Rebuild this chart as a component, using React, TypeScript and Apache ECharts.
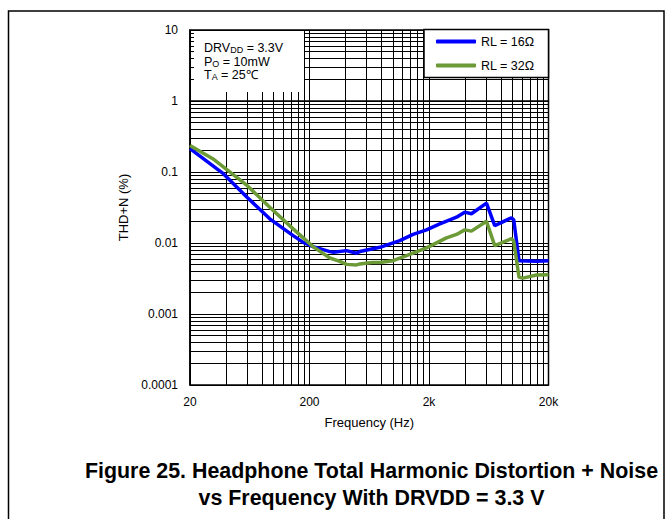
import React, { useEffect, useRef } from "react";
import * as echarts from "echarts";

// ---- data ----
const blueFreq = [20, 38, 60, 93, 146, 177, 214, 296, 318, 408, 495, 528, 776, 1140, 1472, 1906, 2462, 2986, 3397, 3984, 4531, 6053, 7097, 9790, 10235, 11330, 15850, 20000];
const blueThd = [0.213, 0.0946, 0.0442, 0.0219, 0.0127, 0.0102, 0.00889, 0.00756, 0.0074, 0.00781, 0.00716, 0.0076, 0.0087, 0.0108, 0.0132, 0.0153, 0.0186, 0.0212, 0.0231, 0.0272, 0.0258, 0.0364, 0.0176, 0.0226, 0.0212, 0.00564, 0.00553, 0.00564];

const greenFreq = [20, 31, 60, 93, 146, 214, 296, 359, 408, 495, 528, 668, 776, 1002, 1297, 1906, 2800, 3397, 3984, 4531, 6053, 7097, 9790, 10235, 11330, 12200, 15850, 20000];
const greenThd = [0.237, 0.154, 0.0647, 0.0319, 0.0158, 0.00889, 0.00615, 0.00552, 0.0050, 0.00491, 0.00507, 0.00533, 0.00533, 0.00564, 0.00664, 0.00853, 0.0118, 0.0132, 0.0153, 0.0147, 0.0202, 0.00918, 0.0115, 0.0107, 0.00328, 0.0032, 0.00354, 0.00356];

const seriesNames = ["RL = 16Ω", "RL = 32Ω"];

const xTickValues = [20, 200, 2000, 20000];
const xTickLabels = ["20", "200", "2k", "20k"];
const yTickValues = [0.0001, 0.001, 0.01, 0.1, 1, 10];
const yTickLabels = ["0.0001", "0.001", "0.01", "0.1", "1", "10"];

const xGridMultipliers = [1, 2, 3, 4, 5, 6, 7, 8, 9, 10];
const yGridMultipliers = [1, 2, 3, 4, 5, 6, 7, 8, 9];

const lg = Math.log10;
const FONT = "'Liberation Sans', Arial, sans-serif";

function buildXGrid(): number[] {
  const out: number[] = [];
  for (let d = 0; d < xTickValues.length - 1; d++) {
    for (const k of xGridMultipliers) {
      const v = lg(xTickValues[d]) + lg(k);
      if (!out.some((o) => Math.abs(o - v) < 1e-9)) out.push(v);
    }
  }
  out[out.length - 1] = lg(xTickValues[xTickValues.length - 1]);
  return out;
}

function buildYGrid(): number[] {
  const out: number[] = [];
  for (let d = 0; d < yTickValues.length - 1; d++) {
    for (const k of yGridMultipliers) out.push(lg(yTickValues[d]) + lg(k));
  }
  out.push(lg(yTickValues[yTickValues.length - 1]));
  return out;
}

function labelFor(val: number, vals: number[], labels: string[]): string {
  let best = -1;
  let bd = Infinity;
  vals.forEach((v, i) => {
    const d = Math.abs(lg(v) - val);
    if (d < bd) {
      bd = d;
      best = i;
    }
  });
  return bd < 1e-6 ? labels[best] : "";
}

export default function App() {
  const ref = useRef<HTMLDivElement>(null);

  useEffect(() => {
    const chart = echarts.init(ref.current!, null, { renderer: "svg" });

    const mainRich = {
      m: { fontSize: 12.5, fontFamily: FONT, color: "#000", lineHeight: 13 },
      s: { fontSize: 9, fontFamily: FONT, color: "#000", lineHeight: 6, verticalAlign: "bottom" },
    };

    const option: any = {
      animation: false,
      backgroundColor: "#fff",
      grid: {
        left: 190,
        top: 30,
        width: 358.5,
        height: 355,
        show: true,
        borderColor: "#000",
        borderWidth: 1.5,
        backgroundColor: "transparent",
      },
      xAxis: {
        type: "value",
        min: lg(xTickValues[0]),
        max: lg(xTickValues[xTickValues.length - 1]),
        axisLine: { show: true, lineStyle: { color: "#000", width: 1.5 } },
        axisTick: { show: false, customValues: buildXGrid() },
        splitLine: { show: true, lineStyle: { color: "#000", width: 1 } },
        axisLabel: {
          customValues: xTickValues.map(lg),
          formatter: (v: number) => labelFor(v, xTickValues, xTickLabels),
          color: "#000",
          fontSize: 12,
          fontFamily: FONT,
          margin: 11,
          showMinLabel: true,
          showMaxLabel: true,
        },
        name: "Frequency (Hz)",
        nameLocation: "middle",
        nameGap: 31,
        nameTextStyle: { color: "#000", fontSize: 13, fontFamily: FONT },
      },
      yAxis: {
        type: "value",
        min: lg(yTickValues[0]),
        max: lg(yTickValues[yTickValues.length - 1]),
        axisLine: { show: true, lineStyle: { color: "#000", width: 1.5 } },
        axisTick: {
          show: true,
          inside: true,
          length: 4,
          customValues: buildYGrid(),
          lineStyle: { color: "#000", width: 1 },
        },
        splitLine: { show: true, lineStyle: { color: "#000", width: 1 } },
        axisLabel: {
          customValues: yTickValues.map(lg),
          formatter: (v: number) => labelFor(v, yTickValues, yTickLabels),
          color: "#000",
          fontSize: 12,
          fontFamily: FONT,
          margin: 12,
          showMinLabel: true,
          showMaxLabel: true,
        },
        name: "THD+N (%)",
        nameLocation: "middle",
        nameGap: 46,
        nameTextStyle: { color: "#000", fontSize: 13, fontFamily: FONT },
      },
      legend: {
        data: seriesNames,
        orient: "vertical",
        left: 436,
        top: 34,
        icon: "roundRect",
        itemWidth: 40,
        itemHeight: 4,
        itemGap: 9,
        padding: 0,
        textStyle: { color: "#000", fontSize: 12.5, fontFamily: FONT, lineHeight: 15 },
        z: 5,
      },
      graphic: [
        {
          type: "rect",
          shape: { x: 8.5, y: 11, width: 655.5, height: 530 },
          style: { fill: "none", stroke: "#000", lineWidth: 1.5 },
          z: 0,
          silent: true,
        },
        {
          type: "rect",
          shape: { x: 194, y: 31, width: 110, height: 61 },
          style: { fill: "#fff", stroke: "none" },
          z: 3,
          silent: true,
        },
        {
          type: "rect",
          shape: { x: 424, y: 29.5, width: 124.5, height: 48 },
          style: { fill: "#fff", stroke: "#000", lineWidth: 1.5 },
          z: 3,
          silent: true,
        },
        {
          type: "text",
          x: 204,
          y: 48,
          z: 4,
          style: {
            text: "{m|DRV}{s|DD}{m| = 3.3V}",
            rich: mainRich,
            verticalAlign: "middle",
          },
        },
        {
          type: "text",
          x: 204,
          y: 61.5,
          z: 4,
          style: {
            text: "{m|P}{s|O}{m| = 10mW}",
            rich: mainRich,
            verticalAlign: "middle",
          },
        },
        {
          type: "text",
          x: 204,
          y: 74.5,
          z: 4,
          style: {
            text: "{m|T}{s|A}{m| = 25℃}",
            rich: mainRich,
            verticalAlign: "middle",
          },
        },
        {
          type: "text",
          x: 371.5,
          y: 470.7,
          z: 4,
          style: {
            text: "Figure 25. Headphone Total Harmonic Distortion + Noise",
            font: `bold 21.4px ${FONT}`,
            fill: "#000",
            align: "center",
            verticalAlign: "middle",
          },
        },
        {
          type: "text",
          x: 371.5,
          y: 497.7,
          z: 4,
          style: {
            text: "vs Frequency With DRVDD = 3.3 V",
            font: `bold 21.4px ${FONT}`,
            fill: "#000",
            align: "center",
            verticalAlign: "middle",
          },
        },
      ],
      series: [
        {
          name: seriesNames[0],
          type: "line",
          data: blueFreq.map((f, i) => [lg(f), lg(blueThd[i])]),
          symbol: "none",
          lineStyle: { color: "#0000ff", width: 3.5 },
          itemStyle: { color: "#0000ff" },
          z: 2,
        },
        {
          name: seriesNames[1],
          type: "line",
          data: greenFreq.map((f, i) => [lg(f), lg(greenThd[i])]),
          symbol: "none",
          lineStyle: { color: "#6b9a36", width: 3.5 },
          itemStyle: { color: "#6b9a36" },
          z: 2,
        },
      ],
    };

    chart.setOption(option);
    return () => chart.dispose();
  }, []);

  return (
    <div
      ref={ref}
      style={{ position: "fixed", left: 0, top: 0, width: 671, height: 519, background: "#fff" }}
    />
  );
}
